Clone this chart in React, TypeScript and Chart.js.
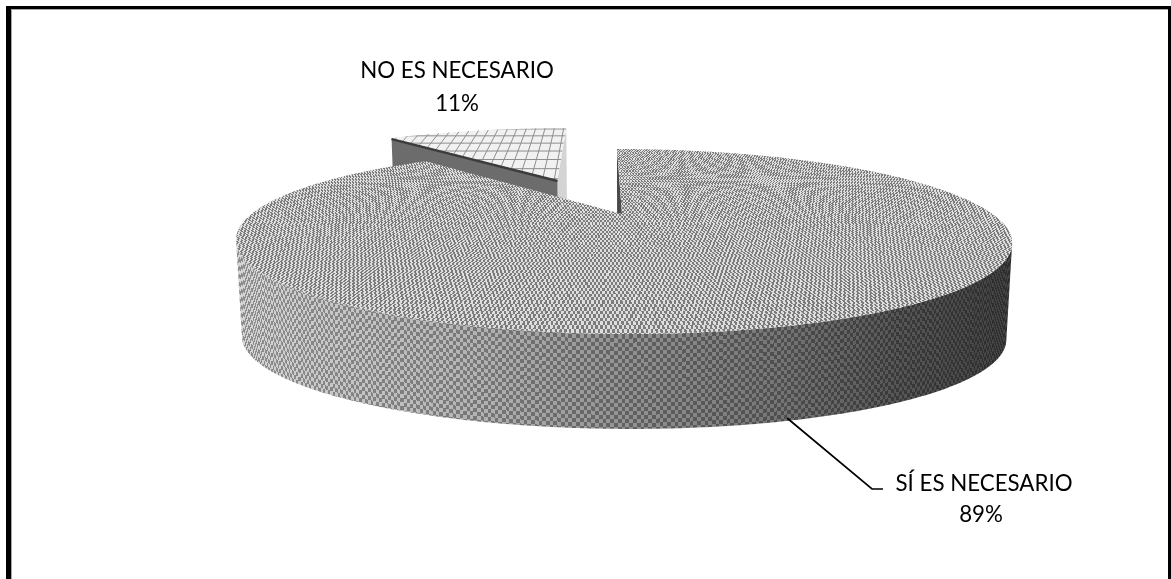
import React, { useEffect, useRef } from "react";
import { Chart, registerables } from "chart.js";

Chart.register(...registerables);

// Survey answers and their shares, in percent.
const categories = ["SÍ ES NECESARIO", "NO ES NECESARIO"];
const shares = [89, 11];
// How far each slice is pulled out of the pie, as a fraction of the radius.
const explode = [0, 0.487];
const sideways = [0, -0.025];

const WIDTH = 1171;
const HEIGHT = 579;

// Perspective of the tilted disc: unit-circle (u, v) to canvas pixels.
const X0 = 622;
const Y0 = 214;
const K = 0.297;
const A = 84.3;
const B = 370.5;
const E = 6.5;
// Centre and half-axes of the disc outline once projected.
const CX = 624;
const CY = 241.5;
const RX = 388;
const RY = 92.5;
// Extrusion of the pie.
const DEPTH = 96.4;
const FLOOR_SCALE = 0.985;

type Pt = [number, number];

const project = (u: number, v: number): Pt => {
  const w = 1 / (1 - K * v);
  return [X0 + (B * u + E * v) * w, Y0 + A * v * w];
};

const drop = ([x, y]: Pt): Pt => [
  CX + (x - CX) * FLOOR_SCALE,
  CY + (y - CY) * FLOOR_SCALE + DEPTH,
];

const rimPoints = (a0: number, a1: number, ou: number, ov: number): Pt[] => {
  const n = Math.max(8, Math.ceil(Math.abs(a1 - a0) * 120));
  const pts: Pt[] = [];
  for (let i = 0; i <= n; i++) {
    const a = a0 + ((a1 - a0) * i) / n;
    pts.push(project(Math.cos(a) + ou, Math.sin(a) + ov));
  }
  return pts;
};

const tracePolygon = (ctx: CanvasRenderingContext2D, pts: Pt[]) => {
  ctx.beginPath();
  pts.forEach(([x, y], i) => (i ? ctx.lineTo(x, y) : ctx.moveTo(x, y)));
  ctx.closePath();
};

// Softened copy of a per-pixel texture, ready to use as a fill.
const textureFrom = (
  ctx: CanvasRenderingContext2D,
  shade: (x: number, y: number) => number
) => {
  const raw = document.createElement("canvas");
  raw.width = WIDTH;
  raw.height = HEIGHT;
  const rawCtx = raw.getContext("2d")!;
  const img = rawCtx.createImageData(WIDTH, HEIGHT);
  for (let y = 0; y < HEIGHT; y++) {
    for (let x = 0; x < WIDTH; x++) {
      const g = shade(x, y);
      const p = (y * WIDTH + x) * 4;
      img.data[p] = img.data[p + 1] = img.data[p + 2] = g;
      img.data[p + 3] = 255;
    }
  }
  rawCtx.putImageData(img, 0, 0);
  const soft = document.createElement("canvas");
  soft.width = WIDTH;
  soft.height = HEIGHT;
  const softCtx = soft.getContext("2d")!;
  softCtx.filter = "blur(0.45px)";
  softCtx.drawImage(raw, 0, 0);
  return ctx.createPattern(soft, "no-repeat")!;
};

// Checker weave laid on the disc itself, so it foreshortens with the view.
const discShade = (x: number, y: number) => {
  const t = y - Y0;
  const v = t / (A + K * t);
  const w = 1 / (1 - K * v);
  const u = ((x - X0) / w - E * v) / B;
  const odd = (Math.floor(u / 0.0046) + Math.floor(v / 0.023)) & 1;
  return odd ? 222 : 124;
};

const wallStops: Pt[] = [
  [0, 178],
  [0.3, 150],
  [0.5, 122],
  [0.7, 98],
  [0.85, 72],
  [1, 55],
];

const wallLevel = (t: number) => {
  for (let i = 1; i < wallStops.length; i++) {
    const [t1, g1] = wallStops[i];
    const [t0, g0] = wallStops[i - 1];
    if (t <= t1) return g0 + ((g1 - g0) * (t - t0)) / (t1 - t0);
  }
  return 55;
};

// Checker wrapped round the rim, lit from the left.
const wallShade = (x: number, y: number) => {
  const c = Math.max(-1, Math.min(1, (x - CX) / RX));
  const top = CY + RY * Math.sqrt(1 - c * c);
  const odd = (Math.floor(Math.acos(c) * 102) + Math.floor(((y - top) / DEPTH) * 24)) & 1;
  const g = wallLevel(Math.max(0, Math.min(1, (x - 236) / 776)));
  return g * (odd ? 1.2 : 0.8);
};

const pie3d = {
  id: "pie3d",
  beforeDraw(chart: Chart) {
    const { ctx } = chart;
    ctx.save();
    ctx.fillStyle = "#ffffff";
    ctx.fillRect(0, 0, WIDTH, HEIGHT);
    // Frame: open at the bottom edge of the canvas.
    ctx.fillStyle = "#a8a8a8";
    ctx.fillRect(6, 6, 1163, 4);
    ctx.fillRect(6, 6, 6, HEIGHT);
    ctx.fillStyle = "#ffffff";
    ctx.fillRect(12, 10, 1156, HEIGHT);
    ctx.fillStyle = "#000000";
    ctx.fillRect(6, 6, 1165, 3);
    ctx.fillRect(6, 6, 5, HEIGHT);
    ctx.fillRect(1168, 6, 3, HEIGHT);
    ctx.restore();
  },
  beforeDatasetsDraw(chart: Chart) {
    const { ctx } = chart;
    const arcs = chart.getDatasetMeta(0).data as any[];
    const topFill = textureFrom(ctx, discShade);
    const wallFill = textureFrom(ctx, wallShade);

    const geometry = arcs.map((arc, i) => {
      const mid = (arc.startAngle + arc.endAngle) / 2;
      const ou = Math.cos(mid) * explode[i] + sideways[i];
      const ov = Math.sin(mid) * explode[i];
      const apex = project(ou, ov);
      const rim = rimPoints(arc.startAngle, arc.endAngle, ou, ov);
      return { apex, rim };
    });

    ctx.save();

    // The pulled-out slice sits behind the large one.
    {
      const { apex, rim } = geometry[1];
      const first = rim[0];
      const last = rim[rim.length - 1];
      tracePolygon(ctx, [apex, last, drop(last), drop(apex)]);
      ctx.fillStyle = "#d4d4d4";
      ctx.fill();
      tracePolygon(ctx, [apex, first, drop(first), drop(apex)]);
      ctx.fillStyle = "#6c6c6c";
      ctx.fill();

      ctx.save();
      tracePolygon(ctx, [apex, ...rim]);
      ctx.fillStyle = "#f1f1f1";
      ctx.fill();
      ctx.clip();
      ctx.strokeStyle = "#8e8e8e";
      ctx.lineWidth = 1;
      for (let u = -2; u <= 1; u += 0.036) {
        ctx.beginPath();
        ctx.moveTo(...project(u, -2.4));
        ctx.lineTo(...project(u, 0.5));
        ctx.stroke();
      }
      for (let v = -2.4; v <= 0.5; v += 0.16) {
        ctx.beginPath();
        ctx.moveTo(...project(-2, v));
        ctx.lineTo(...project(1, v));
        ctx.stroke();
      }
      ctx.restore();

      ctx.strokeStyle = "#3c3c3c";
      ctx.lineWidth = 2.5;
      ctx.beginPath();
      ctx.moveTo(first[0], first[1] + 1);
      ctx.lineTo(apex[0], apex[1] + 1);
      ctx.stroke();
    }

    // The large slice: cut face, visible part of the outer wall, then the top.
    {
      const { apex, rim } = geometry[0];
      const first = rim[0];
      tracePolygon(ctx, [apex, first, drop(first), drop(apex)]);
      ctx.fillStyle = "#4a4a4a";
      ctx.fill();

      let right = 0;
      let left = 0;
      rim.forEach(([x], i) => {
        if (x > rim[right][0]) right = i;
        if (x < rim[left][0]) left = i;
      });
      const front = rim.slice(right, left + 1);
      tracePolygon(ctx, [...front, ...front.slice().reverse().map(drop)]);
      ctx.fillStyle = wallFill;
      ctx.fill();

      tracePolygon(ctx, [apex, ...rim]);
      ctx.fillStyle = topFill;
      ctx.fill();
    }

    ctx.restore();
    return false;
  },
  afterDraw(chart: Chart) {
    const { ctx } = chart;
    ctx.save();

    // Leader line from the large slice to its label.
    ctx.strokeStyle = "#000000";
    ctx.lineWidth = 1.7;
    ctx.beginPath();
    ctx.moveTo(787, 418);
    ctx.lineTo(872, 489);
    ctx.lineTo(883, 489);
    ctx.stroke();

    ctx.fillStyle = "#000000";
    ctx.font = "22.3px Lato";
    ctx.textAlign = "center";
    ctx.textBaseline = "alphabetic";
    ctx.fillText(categories[1], 457, 78);
    ctx.fillText(`${shares[1]}%`, 457, 111);
    ctx.fillText(categories[0], 984, 491);
    ctx.fillText(`${shares[0]}%`, 981, 522);
    ctx.restore();
  },
};

export default function App() {
  const ref = useRef<HTMLCanvasElement | null>(null);

  useEffect(() => {
    document.body.style.margin = "0";
    const chart = new Chart(ref.current!, {
      type: "pie",
      data: {
        labels: categories,
        datasets: [{ data: shares }],
      },
      options: {
        responsive: false,
        animation: false,
        devicePixelRatio: 1,
        plugins: { legend: { display: false }, tooltip: { enabled: false } },
      },
      plugins: [pie3d],
    } as any);
    return () => chart.destroy();
  }, []);

  return (
    <canvas ref={ref} width={WIDTH} height={HEIGHT} style={{ display: "block" }} />
  );
}
